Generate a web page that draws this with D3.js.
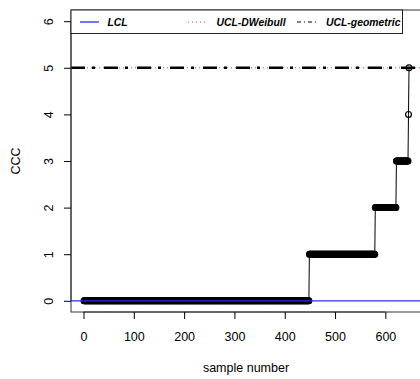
<!DOCTYPE html>
<html>
<head>
<meta charset="utf-8">
<script src="https://cdn.jsdelivr.net/npm/d3@7"></script>
<style>
  body { margin: 0; background: #fff; }
  svg text { font-family: "Liberation Sans", Arial, Helvetica, sans-serif; fill: #000; }
</style>
</head>
<body>
<div id="chart"></div>
<script>
// runs of the CCC statistic: level held from runStart to runEnd (sample numbers)
const cccLevels = [0, 1, 2, 3, 4, 5];
const runStart = [1, 449, 580, 622, 646, 647];
const runEnd = [448, 579, 621, 645, 646, 647];

// control limits
const lclValue = 0;
const uclDWeibull = 5;
const uclGeometric = 5;

const xTicks = [0, 100, 200, 300, 400, 500, 600];
const yTicks = [0, 1, 2, 3, 4, 5, 6];
const legendLabels = ['LCL', 'UCL-DWeibull', 'UCL-geometric'];

const width = 420;
const height = 379;
const plot = { left: 71, top: 10, right: 422, bottom: 312 };

// one point per sample, built from the runs above
const samples = [];
cccLevels.forEach((lvl, i) => {
  for (let s = runStart[i]; s <= runEnd[i]; s++) {
    samples.push({ x: s, y: lvl });
  }
});

// R style 4% range expansion
const xExt = d3.extent(samples, d => d.x);
const xPad = (xExt[1] - xExt[0]) * 0.04;
const x = d3.scaleLinear()
  .domain([xExt[0] - xPad, xExt[1] + xPad])
  .range([plot.left, plot.right]);

const y = d3.scaleLinear()
  .domain([0 - 0.24, 6 + 0.24])
  .range([plot.bottom, plot.top]);

const svg = d3.select('#chart')
  .append('svg')
  .attr('width', width)
  .attr('height', height);

// connecting line (type = "o")
const line = d3.line()
  .x(d => x(d.x))
  .y(d => y(d.y));

svg.append('path')
  .datum(samples)
  .attr('d', line)
  .attr('fill', 'none')
  .attr('stroke', '#000')
  .attr('stroke-width', 1);

svg.append('g')
  .selectAll('circle')
  .data(samples)
  .enter()
  .append('circle')
  .attr('cx', d => x(d.x))
  .attr('cy', d => y(d.y))
  .attr('r', 2.9)
  .attr('fill', 'none')
  .attr('stroke', '#000')
  .attr('stroke-width', 1.2);

// horizontal limit lines
const hline = (val, color, w, dash) => {
  svg.append('line')
    .attr('x1', plot.left)
    .attr('x2', plot.right)
    .attr('y1', y(val))
    .attr('y2', y(val))
    .attr('stroke', color)
    .attr('stroke-width', w)
    .attr('stroke-dasharray', dash);
};
hline(lclValue, '#2b2bff', 1.3, null);
hline(uclDWeibull, '#ff3030', 1, '1,3');
hline(uclGeometric, '#000', 2.5, '14,7,3,9');

// box
svg.append('rect')
  .attr('x', plot.left)
  .attr('y', plot.top)
  .attr('width', plot.right - plot.left)
  .attr('height', plot.bottom - plot.top)
  .attr('fill', 'none')
  .attr('stroke', '#333')
  .attr('stroke-width', 1);

// axes
const xAxis = svg.append('g')
  .attr('transform', `translate(0, ${plot.bottom})`)
  .call(d3.axisBottom(x).tickValues(xTicks).tickFormat(d3.format('d')).tickSize(7).tickPadding(13));
xAxis.select('.domain')
  .attr('d', `M${x(xTicks[0])},0H${x(xTicks[xTicks.length - 1])}`)
  .attr('stroke', '#333');
xAxis.selectAll('text').style('font-size', '12.5px');

const yAxis = svg.append('g')
  .attr('transform', `translate(${plot.left}, 0)`)
  .call(d3.axisLeft(y).tickValues(yTicks).tickFormat(d3.format('d')).tickSize(7));
yAxis.select('.domain')
  .attr('d', `M0,${y(yTicks[0])}V${y(yTicks[yTicks.length - 1])}`)
  .attr('stroke', '#333');
yAxis.selectAll('text')
  .attr('x', null)
  .attr('y', null)
  .attr('dy', null)
  .attr('text-anchor', 'middle')
  .attr('transform', 'translate(-18, 0) rotate(-90)')
  .style('font-size', '12.5px');

// axis titles
svg.append('text')
  .attr('x', 246)
  .attr('y', 372)
  .attr('text-anchor', 'middle')
  .style('font-size', '12.5px')
  .text('sample number');

svg.append('text')
  .attr('transform', `translate(20, 161) rotate(-90)`)
  .attr('text-anchor', 'middle')
  .style('font-size', '12.5px')
  .text('CCC');

// legend
const legend = svg.append('g');
legend.append('rect')
  .attr('x', plot.left)
  .attr('y', plot.top)
  .attr('width', 331.5)
  .attr('height', 23.5)
  .attr('fill', '#fff')
  .attr('stroke', '#222');

const legendKeys = [
  { x: 80, color: '#2b2bff', dash: null, w: 1.3 },
  { x: 188, color: '#ff3030', dash: '1,3', w: 1 },
  { x: 297, color: '#000', dash: '4,3,1,3', w: 1 }
];
const legendText = [107.5, 216.5, 326];

legend.selectAll('line')
  .data(legendKeys)
  .enter()
  .append('line')
  .attr('x1', d => d.x)
  .attr('x2', d => d.x + 19)
  .attr('y1', 22)
  .attr('y2', 22)
  .attr('stroke', d => d.color)
  .attr('stroke-width', d => d.w)
  .attr('stroke-dasharray', d => d.dash);

legend.selectAll('text')
  .data(legendLabels)
  .enter()
  .append('text')
  .attr('x', (d, i) => legendText[i])
  .attr('y', 26)
  .style('font-size', '10.4px')
  .style('font-weight', 'bold')
  .style('font-style', 'italic')
  .text(d => d);
</script>
</body>
</html>
